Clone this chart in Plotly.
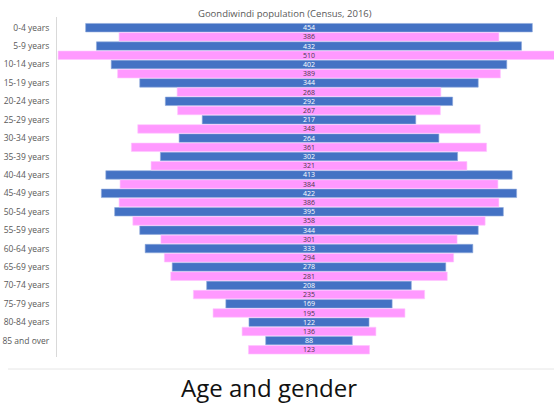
import plotly.graph_objects as go

# Goondiwindi population by age group, 2016 Census
age_groups = ["0-4 years", "5-9 years", "10-14 years", "15-19 years", "20-24 years",
              "25-29 years", "30-34 years", "35-39 years", "40-44 years", "45-49 years",
              "50-54 years", "55-59 years", "60-64 years", "65-69 years", "70-74 years",
              "75-79 years", "80-84 years", "85 and over"]
males = [454, 432, 402, 344, 292, 217, 264, 302, 413, 422, 395, 344, 333, 278, 208, 169, 122, 88]
females = [386, 510, 389, 268, 267, 348, 361, 321, 384, 386, 358, 301, 294, 281, 235, 195, 136, 123]

BLUE = "#4472C4"
PINK = "#FF99FF"
FONT = "Open Sans"

fig = go.Figure()

# Each bar is centred on zero: base at -v/2, length v
fig.add_trace(go.Bar(
    y=age_groups, x=males, base=[-v / 2 for v in males], orientation="h",
    offset=-0.23, width=0.46,
    marker=dict(color=BLUE, line=dict(color="#8fa9dc", width=0.6)),
    text=[str(v) for v in males], textposition="inside", insidetextanchor="middle",
    textfont=dict(family=FONT, size=7, color="white"),
    textangle=0, constraintext="none", showlegend=False, name="Male",
))
fig.add_trace(go.Bar(
    y=age_groups, x=females, base=[-v / 2 for v in females], orientation="h",
    offset=0.27, width=0.46,
    marker=dict(color=PINK, line=dict(color="#ffc4ff", width=0.6)),
    text=[str(v) for v in females], textposition="inside", insidetextanchor="middle",
    textfont=dict(family=FONT, size=7, color="#4a3a4a"),
    textangle=0, constraintext="none", showlegend=False, name="Female",
))

fig.update_layout(
    width=554, height=407,
    margin=dict(l=57, r=0, t=17, b=50),
    paper_bgcolor="white", plot_bgcolor="white",
    barmode="overlay",
    xaxis=dict(range=[-256.1, 249.0], visible=False, fixedrange=True),
    yaxis=dict(
        type="category", categoryorder="array", categoryarray=age_groups,
        range=[17.89, -0.58], showgrid=False, zeroline=False,
        showline=True, linecolor="#d9d9d9", linewidth=1,
        ticks="", ticklabelstandoff=5,
        tickfont=dict(family=FONT, size=8.5, color="#595959"),
    ),
    annotations=[
        dict(text="Goondiwindi population (Census, 2016)", xref="paper", yref="paper",
             x=0.4588, y=1.009, xanchor="center", yanchor="middle", showarrow=False,
             font=dict(family=FONT, size=9.5, color="#595959")),
        dict(text="Age and gender", xref="paper", yref="paper",
             x=(269 - 57) / 497, y=-(388 - 357) / 340, xanchor="center", yanchor="middle",
             showarrow=False, font=dict(family=FONT, size=24, color="#111111")),
    ],
    shapes=[
        dict(type="line", xref="paper", yref="paper",
             x0=(8 - 57) / 497, x1=1.0, y0=-(369 - 357) / 340, y1=-(369 - 357) / 340,
             line=dict(color="#e6e6e6", width=1)),
    ],
)

fig.write_html("out.html")
